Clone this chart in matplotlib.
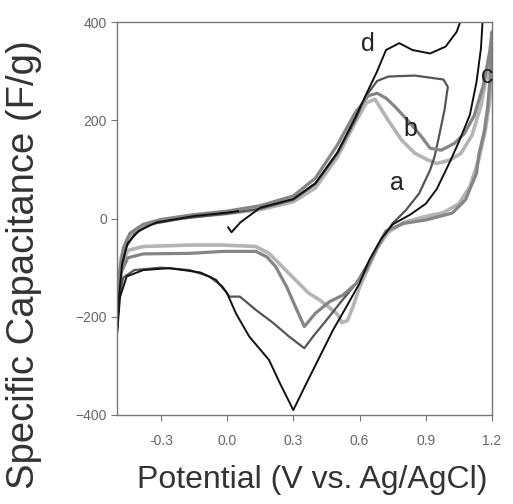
import numpy as np
import matplotlib
matplotlib.use("Agg")
import matplotlib.pyplot as plt

plt.rcParams["font.family"] = ["Liberation Sans", "DejaVu Sans"]

# --------------------------------------------------------------------#
# Data (potential in V, capacitance in F/g)
# --------------------------------------------------------------------#
# curve d: black, strongest cathodic peak
d_x = [0.005, 0.02, 0.06, 0.15, 0.30, 0.40, 0.50, 0.58, 0.64, 0.68, 0.72, 0.78,
       0.84, 0.92, 0.99, 1.04, 1.08, 1.12, 1.16, 1.15, 1.13, 1.10, 1.05, 1.01,
       0.95, 0.90, 0.83, 0.75, 0.70, 0.645, 0.60, 0.54, 0.48, 0.42, 0.36, 0.30,
       0.24, 0.19, 0.10, 0.04, 0.0, -0.05, -0.12, -0.26, -0.38, -0.455, -0.485,
       -0.5, -0.49, -0.475, -0.45, -0.40, -0.32, -0.15, 0.0, 0.05]
d_y = [-18, -28, -8, 22, 40, 72, 135, 205, 262, 300, 343, 357,
       343, 336, 350, 380, 430, 450, 420, 346, 278, 211, 156, 116,
       60, 30, 8, -12, -40, -84, -132, -180, -227, -281, -335, -390,
       -336, -288, -240, -193, -152, -125, -110, -101, -105, -118, -160,
       -245, -160, -90, -50, -25, -8, 5, 12, 15]

# curve c: dark grey, flat-topped anodic wave, reversal near 1.0 V
c_x = [-0.5, -0.485, -0.46, -0.42, -0.35, -0.2, 0.0, 0.15, 0.30, 0.40, 0.50,
       0.58, 0.63, 0.68, 0.73, 0.85, 0.98, 1.0, 0.985, 0.96, 0.94, 0.92, 0.87,
       0.81, 0.75, 0.69, 0.64, 0.585, 0.51, 0.45, 0.39, 0.35, 0.28, 0.21, 0.13,
       0.058, 0.01, -0.02, -0.08, -0.17, -0.30, -0.42, -0.47, -0.49, -0.5]
c_y = [-230, -130, -60, -32, -12, 0, 10, 20, 38, 70, 132,
       200, 250, 280, 289, 291, 283, 268, 221, 167, 126, 99, 51,
       17, -10, -50, -90, -132, -173, -207, -240, -264, -240, -213, -186,
       -159, -159, -139, -118, -105, -100, -105, -120, -160, -230]

# curve b: medium grey, reversal at 1.2 V
b_x = [-0.5, -0.49, -0.47, -0.44, -0.38, -0.30, -0.15, 0.0, 0.15, 0.30, 0.40,
       0.50, 0.58, 0.64, 0.68, 0.72, 0.76, 0.83, 0.88, 0.92, 0.97, 1.03, 1.075,
       1.12, 1.16, 1.19, 1.2, 1.195, 1.19, 1.18, 1.165, 1.14, 1.13, 1.08, 1.02,
       0.90, 0.80, 0.72, 0.675, 0.63, 0.585, 0.525, 0.465, 0.40, 0.35, 0.31,
       0.27, 0.22, 0.18, 0.13, -0.02, -0.17, -0.38, -0.45, -0.48, -0.5]
b_y = [-200, -120, -60, -30, -12, -2, 8, 15, 26, 46, 82,
       150, 215, 250, 255, 245, 228, 194, 167, 143, 139, 153, 173,
       210, 270, 340, 380, 320, 278, 225, 177, 129, 92, 38, 11,
       -3, -10, -25, -64, -105, -132, -156, -169, -193, -220, -180,
       -139, -98, -78, -67, -67, -71, -72, -80, -110, -170]

# curve a: light grey, weakest and most shifted cathodic peak
a_x = [-0.5, -0.48, -0.45, -0.40, -0.30, -0.15, 0.0, 0.15, 0.30, 0.40, 0.50,
       0.58, 0.63, 0.67, 0.73, 0.79, 0.85, 0.91, 0.95, 1.01, 1.06, 1.11, 1.15,
       1.18, 1.2, 1.2, 1.19, 1.17, 1.14, 1.10, 1.05, 0.98, 0.88, 0.80, 0.73,
       0.68, 0.64, 0.60, 0.57, 0.545, 0.52, 0.50, 0.46, 0.42, 0.37, 0.31, 0.25,
       0.19, 0.13, -0.02, -0.17, -0.38, -0.45, -0.48, -0.5]
a_y = [-170, -80, -40, -18, -5, 4, 10, 18, 34, 62, 125,
       195, 235, 243, 200, 160, 133, 119, 112, 119, 133, 170, 230,
       300, 360, 300, 240, 180, 120, 65, 30, 12, 2, -8, -28,
       -60, -100, -140, -180, -208, -212, -195, -180, -166, -152, -125, -98,
       -71, -57, -54, -54, -57, -65, -100, -170]

curves = [
    ("a", a_x, a_y, "#b4b4b4", 2.6),
    ("c", c_x, c_y, "#555555", 1.6),
    ("b", b_x, b_y, "#858585", 2.3),
    ("d", d_x, d_y, "#111111", 1.4),
]

# label positions (potential, capacitance)
labels = {"d": (0.64, 355), "b": (0.83, 182), "a": (0.77, 72), "c": (1.18, 290)}

x_ticks = [-0.3, 0.0, 0.3, 0.6, 0.9, 1.2]
y_ticks = [-400, -200, 0, 200, 400]

# --------------------------------------------------------------------#
# Plot
# --------------------------------------------------------------------#
fig = plt.figure(figsize=(5.13, 5.04), dpi=100)
ax = fig.add_axes([0.2275, 0.1766, 0.7315, 0.7797])

for name, xs, ys, col, lw in curves:
    ax.plot(xs, ys, color=col, lw=lw, solid_joinstyle="round")

for name, (lx, ly) in labels.items():
    ax.text(lx, ly, name, fontsize=18, color="#222222", ha="center", va="center")

ax.set_xlim(-0.5, 1.2)
ax.set_ylim(-400, 400)
ax.set_xticks(x_ticks)
ax.set_xticklabels(["%.1f" % v for v in x_ticks])
ax.set_yticks(y_ticks)

for sp in ax.spines.values():
    sp.set_color("#777777")
    sp.set_linewidth(1.0)
ax.tick_params(direction="out", length=4, width=0.8, color="#777777",
               labelcolor="#666666", labelsize=10)
ax.tick_params(axis="x", pad=10)
ax.tick_params(axis="y", pad=3)

fig.text(312 / 513, 1 - 480 / 504, "Potential (V vs. Ag/AgCl)", fontsize=23,
         color="#333333", ha="center", va="center")
fig.text(24 / 513, 1 - 265 / 504, "Specific Capacitance (F/g)", fontsize=27.5,
         color="#333333", ha="center", va="center", rotation=90)

fig.savefig("out.png", dpi=100)
